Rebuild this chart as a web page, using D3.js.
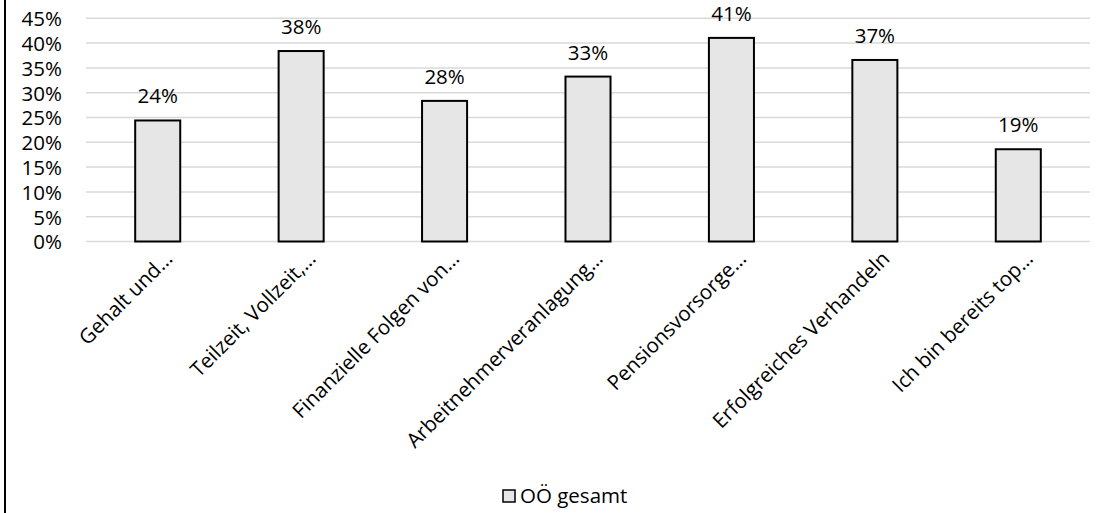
<!DOCTYPE html>
<html>
<head>
<meta charset="utf-8">
<script src="https://cdn.jsdelivr.net/npm/d3@7"></script>
<style>
  html, body { margin: 0; padding: 0; background: #fff; }
  svg { display: block; }
  text { font-family: "Open Sans", sans-serif; fill: #000; }
</style>
</head>
<body>
<svg id="chart" width="1101" height="513"></svg>
<script>
const categories = [
  "Gehalt und…",
  "Teilzeit, Vollzeit,…",
  "Finanzielle Folgen von…",
  "Arbeitnehmerveranlagung…",
  "Pensionsvorsorge…",
  "Erfolgreiches Verhandeln",
  "Ich bin bereits top…"
];
const values = [24.4, 38.4, 28.35, 33.25, 41.05, 36.6, 18.6];
const valueLabels = ["24%", "38%", "28%", "33%", "41%", "37%", "19%"];
const yTicks = [0, 5, 10, 15, 20, 25, 30, 35, 40, 45];
const seriesName = "OÖ gesamt";

(function () {
const svg = d3.select("#chart");
const W = 1101, H = 513;
const mLeft = 86, mRight = 1090, mTop = 18.3, mBottom = 241.5;
const fontSize = 20.5;

// left border line
svg.append("line").attr("x1", 5).attr("x2", 5).attr("y1", 0).attr("y2", H)
  .attr("stroke", "#000").attr("stroke-width", 2);

const x = d3.scaleBand().domain(categories).range([mLeft, mRight])
  .paddingInner(0.686).paddingOuter(0.343);
const y = d3.scaleLinear().domain([0, 45]).range([mBottom, mTop]);

// gridlines
svg.append("g").selectAll("line").data(yTicks).join("line")
  .attr("x1", mLeft).attr("x2", mRight)
  .attr("y1", d => y(d)).attr("y2", d => y(d))
  .attr("stroke", "#d9d9d9").attr("stroke-width", 1.5);

// y axis labels
const yAxis = d3.axisLeft(y).tickValues(yTicks).tickFormat(d => d + "%").tickSize(0).tickPadding(0);
const gy = svg.append("g").attr("transform", `translate(62,0)`).call(yAxis);
gy.select(".domain").remove();
gy.selectAll("text").attr("font-size", fontSize).attr("font-family", "Open Sans, sans-serif")
  .attr("fill", "#000").attr("dy", "0.36em");

// bars
svg.append("g").selectAll("rect").data(values).join("rect")
  .attr("x", (d, i) => x(categories[i]))
  .attr("width", x.bandwidth())
  .attr("y", d => y(d))
  .attr("height", d => y(0) - y(d))
  .attr("fill", "#e7e6e6").attr("stroke", "#000").attr("stroke-width", 2);

// value labels
svg.append("g").selectAll("text").data(values).join("text")
  .attr("x", (d, i) => x(categories[i]) + x.bandwidth() / 2)
  .attr("y", d => y(d) - 17)
  .attr("text-anchor", "middle")
  .attr("font-size", fontSize)
  .text((d, i) => valueLabels[i]);

// x axis labels
const xAxis = d3.axisBottom(x).tickSize(0).tickPadding(0);
const gx = svg.append("g").attr("transform", `translate(0,${mBottom})`).call(xAxis);
gx.select(".domain").remove();
gx.selectAll("text")
  .attr("font-size", fontSize).attr("font-family", "Open Sans, sans-serif").attr("fill", "#000")
  .attr("x", 0).attr("y", 0).attr("dy", 0)
  .attr("text-anchor", "end")
  .attr("transform", "translate(16,18.5) rotate(-45)");

// legend
const lg = svg.append("g");
lg.append("rect").attr("x", 503).attr("y", 490).attr("width", 12).attr("height", 12)
  .attr("fill", "#e7e6e6").attr("stroke", "#000").attr("stroke-width", 1.5);
lg.append("text").attr("x", 520).attr("y", 503).attr("font-size", fontSize).text(seriesName);
})();
</script>
</body>
</html>
